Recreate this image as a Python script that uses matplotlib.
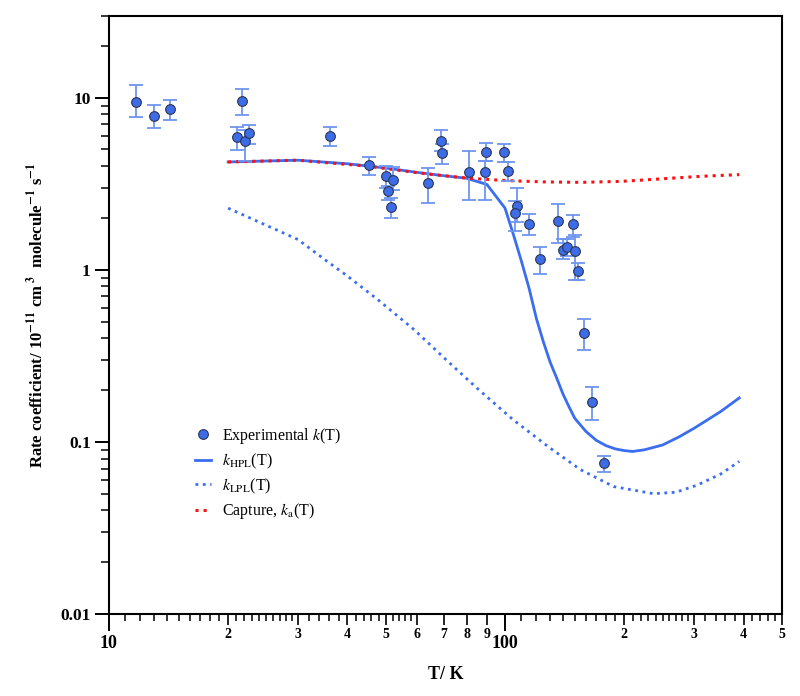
import numpy as np
import matplotlib
matplotlib.use("Agg")
import matplotlib.pyplot as plt
from matplotlib.lines import Line2D

plt.rcParams['font.family'] = ['Liberation Serif', 'DejaVu Serif']
plt.rcParams['mathtext.fontset'] = 'stix'

# ---------------- data ----------------
exp_T = [11.7, 13.0, 14.3, 21.7, 21.1, 22.1, 22.6, 36.1, 45.3, 50.0, 52.1, 50.6, 51.6,
         64.0, 68.8, 69.4, 81.1, 89.3, 89.1, 99.4, 101.8, 107.0, 106.2, 115.2, 122.4,
         136.1, 140.3, 143.3, 148.2, 149.8, 152.9, 158.4, 166.1, 177.6]
exp_k = [9.48, 7.86, 8.63, 9.6, 5.88, 5.57, 6.2, 6.0, 4.04, 3.52, 3.34, 2.87, 2.31,
         3.18, 5.6, 4.77, 3.71, 4.81, 3.71, 4.81, 3.75, 2.35, 2.14, 1.85, 1.15,
         1.93, 1.31, 1.36, 1.84, 1.28, 0.987, 0.432, 0.171, 0.075]
exp_lo = [7.77, 6.7, 7.4, 7.9, 4.94, 4.26, 5.4, 5.25, 3.55, 3.0, 2.9, 2.55, 2.0,
          2.43, 4.9, 4.1, 2.53, 4.3, 2.53, 4.2, 3.3, 1.9, 1.69, 1.6, 0.95,
          1.43, 1.15, 1.2, 1.55, 0.87, 0.87, 0.34, 0.134, 0.0666]
exp_hi = [11.9, 9.1, 9.7, 11.3, 6.77, 6.5, 6.94, 6.78, 4.5, 4.0, 3.95, 3.05, 2.61,
          3.9, 6.45, 5.4, 4.92, 5.43, 4.3, 5.4, 4.2, 2.99, 2.5, 2.11, 1.35,
          2.41, 1.5, 1.5, 2.07, 1.6, 1.09, 0.52, 0.208, 0.083]

hpl_T = [20, 30, 40, 50, 60, 70, 80, 90, 100, 105, 110, 115, 120, 125, 130, 135, 140,
         145, 150, 160, 170, 180, 190, 200, 210, 225, 250, 275, 300, 350, 390]
hpl_k = [4.23, 4.33, 4.13, 3.9, 3.68, 3.52, 3.40, 3.13, 2.28, 1.6, 1.12, 0.78, 0.52,
         0.38, 0.29, 0.235, 0.19, 0.16, 0.137, 0.115, 0.102, 0.095, 0.091, 0.089,
         0.088, 0.09, 0.096, 0.107, 0.12, 0.15, 0.18]

lpl_T = [20, 30, 35, 40, 48, 59, 71, 85, 105, 130, 155, 188, 237, 270, 305, 350, 390]
lpl_k = [2.28, 1.50, 1.15, 0.92, 0.664, 0.448, 0.30, 0.205, 0.134, 0.092, 0.069,
         0.055, 0.050, 0.051, 0.056, 0.065, 0.077]

cap_T = [20, 30, 45, 63, 80, 100, 125, 155, 195, 246, 311, 390]
cap_k = [4.23, 4.33, 4.0, 3.61, 3.41, 3.30, 3.24, 3.22, 3.26, 3.37, 3.49, 3.57]

x_major = [10, 100]
x_major_labels = ['10', '100']
x_minor = [20, 30, 40, 50, 60, 70, 80, 90, 200, 300, 400, 500]
x_minor_labels = ['2', '3', '4', '5', '6', '7', '8', '9', '2', '3', '4', '5']
x_small = ([11, 12, 13, 14, 15, 16, 17, 18, 19, 21, 22, 23, 24, 25, 26, 27, 28, 29,
            32, 34, 36, 38, 42, 44, 46, 48, 52, 54, 56, 58] +
           [110, 120, 130, 140, 150, 160, 170, 180, 190, 210, 220, 230, 240, 250, 260,
            270, 280, 290, 320, 340, 360, 380, 420, 440, 460, 480])
y_major = [0.01, 0.1, 1, 10]
y_major_labels = ['0.01', '0.1', '1', '10']

# ---------------- figure ----------------
fig = plt.figure(figsize=(8.0, 6.96), dpi=100)
ax = fig.add_axes([0.136, 0.1178, 0.8415, 0.8599])
ax.set_xscale('log')
ax.set_yscale('log')
ax.set_xlim(10, 500)
ax.set_ylim(0.01, 30)

blue = '#3a6df0'
red = '#ff1010'

ax.plot(hpl_T, hpl_k, '-', color=blue, lw=2.0, zorder=3)
ax.plot(lpl_T, lpl_k, ':', color=blue, lw=2.0, zorder=3)
ax.plot(cap_T, cap_k, ':', color=red, lw=2.2, zorder=4)

exp_T_a = np.array(exp_T)
exp_k_a = np.array(exp_k)
yerr = [exp_k_a - np.array(exp_lo), np.array(exp_hi) - exp_k_a]
ax.errorbar(exp_T_a, exp_k_a, yerr=yerr, fmt='none', ecolor='#6f95ee',
            elinewidth=1.3, capsize=5, capthick=1.3, zorder=5)
ax.plot(exp_T_a, exp_k_a, 'o', ms=7, mfc='#3d6ce8', mec='#2d3550', mew=0.8,
        zorder=6, linestyle='none')

# ticks
ax.set_xticks(x_major, x_major_labels)
ax.set_xticks(x_minor, x_minor_labels, minor=True)
ax.tick_params(axis='x', which='major', direction='out', length=12, width=1.4,
               labelsize=13, pad=3)
ax.tick_params(axis='x', which='minor', direction='out', length=8, width=1.2,
               labelsize=10, pad=2)
for lab in ax.get_xticklabels(which='both'):
    lab.set_fontweight('bold')

sec = ax.secondary_xaxis('bottom')
sec.set_xticks(x_small, [''] * len(x_small))
sec.tick_params(axis='x', which='major', direction='out', length=5, width=1.1)
sec.xaxis.set_minor_locator(matplotlib.ticker.NullLocator())
sec.spines['bottom'].set_visible(False)

ax.set_yticks(y_major, y_major_labels)
ax.yaxis.set_minor_locator(matplotlib.ticker.LogLocator(base=10, subs=np.arange(2, 10), numticks=20))
ax.yaxis.set_minor_formatter(matplotlib.ticker.NullFormatter())
ax.tick_params(axis='y', which='major', direction='out', length=10, width=1.4,
               labelsize=12.5, pad=3)
ax.tick_params(axis='y', which='minor', direction='out', length=6, width=1.1)
for lab in ax.get_yticklabels():
    lab.set_fontweight('bold')

for s in ax.spines.values():
    s.set_linewidth(1.5)

ax.set_xlabel('T/ K', fontsize=13, fontweight='bold', labelpad=10)
ax.set_ylabel(r'Rate coefficient/ 10$^{\mathbf{-11}}$ cm$^{\ \mathbf{3}}$  molecule$^{\mathbf{-1}}$ s$^{\mathbf{-1}}$',
              fontsize=12, fontweight='bold', labelpad=10)

handles = [
    Line2D([], [], marker='o', ls='none', ms=7, mfc='#3d6ce8', mec='#2d3550', mew=0.8),
    Line2D([], [], ls='-', color=blue, lw=2.0),
    Line2D([], [], ls=':', color=blue, lw=2.0),
    Line2D([], [], ls=':', color=red, lw=2.2),
]
labels = [r'Experimental $k$(T)', r'$k_{\mathrm{HPL}}$(T)', r'$k_{\mathrm{LPL}}$(T)',
          r'Capture, $k_{\mathrm{a}}$(T)']
ax.legend(handles, labels, loc='upper left', bbox_to_anchor=(0.118, 0.325),
          frameon=False, fontsize=11.5, handlelength=1.0, handletextpad=0.7,
          labelspacing=0.35, borderaxespad=0)

fig.savefig('out.png', dpi=100)
